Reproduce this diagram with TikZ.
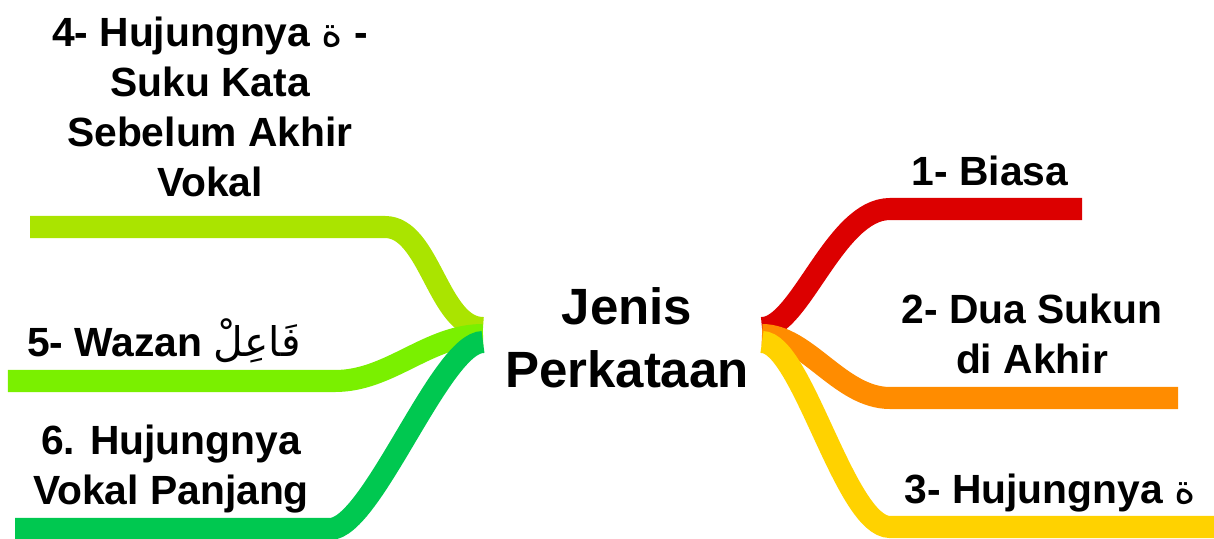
\documentclass[tikz,border=0pt]{standalone}
\usepackage{fontspec}
\setmainfont{Liberation Sans}
\newfontfamily\arabicfont[Script=Arabic]{DejaVu Sans}
\TeXXeTstate=1
\definecolor{brred}{RGB}{220,0,0}
\definecolor{brorange}{RGB}{255,140,0}
\definecolor{bryellow}{RGB}{255,210,0}
\definecolor{brlime}{RGB}{170,228,0}
\definecolor{brlight}{RGB}{122,240,0}
\definecolor{brgreen}{RGB}{0,200,80}
\newcommand{\tehm}{{\arabicfont\mdseries\beginR ة\endR}}
\begin{document}
\begin{tikzpicture}[x=0.01cm,y=-0.01cm,
  branch/.style={line width=2.2mm},
  lbl/.style={font=\fontsize{11.6}{14.2}\selectfont\bfseries, align=center, inner sep=0pt},
  topic/.style={font=\fontsize{14.5}{17.9}\selectfont\bfseries, align=center, inner sep=0pt}]
\useasboundingbox (0,0) rectangle (1214,539);

\node[topic] (jenis) at (627,338) {Jenis\\Perkataan};

\coordinate (rootR1) at (762,328);
\coordinate (rootR2) at (762,335);
\coordinate (rootR3) at (762,342);
\coordinate (rootL1) at (483,328);
\coordinate (rootL2) at (483,335);
\coordinate (rootL3) at (483,342);

\coordinate (turnBiasa) at (890,209);
\coordinate (endBiasa) at (1082,209);
\coordinate (turnSukun) at (890,398);
\coordinate (endSukun) at (1178,398);
\coordinate (turnHujung) at (890,527);
\coordinate (endHujung) at (1214,527);
\coordinate (turnSuku) at (385,227);
\coordinate (endSuku) at (30,227);
\coordinate (turnWazan) at (335,381);
\coordinate (endWazan) at (8,381);
\coordinate (turnVokal) at (330,529);
\coordinate (endVokal) at (15,529);

% right side
\draw[branch, brred] (rootR1) .. controls +(38,0) and +(-55,0) .. (turnBiasa) -- (endBiasa);
\draw[branch, brorange] (rootR2) .. controls +(45,0) and +(-50,0) .. (turnSukun) -- (endSukun);
\draw[branch, bryellow] (rootR3) .. controls +(40,0) and +(-45,0) .. (turnHujung) -- (endHujung);

% left side
\draw[branch, brlime] (rootL1) .. controls +(-45,0) and +(45,0) .. (turnSuku) -- (endSuku);
\draw[branch, brlight] (rootL2) .. controls +(-55,0) and +(55,0) .. (turnWazan) -- (endWazan);
\draw[branch, brgreen] (rootL3) .. controls +(-42,0) and +(42,0) .. (turnVokal) -- (endVokal);

\node[lbl, anchor=base] (biasa) at (990,185) {1- Biasa};
\node[lbl] (sukun) at (1032,334) {2- Dua Sukun\\di Akhir};
\node[lbl, anchor=base] (hujung) at (1050,503) {3- Hujungnya \tehm};
\node[lbl] (sukukata) at (210,107) {4- Hujungnya \tehm{} -\\Suku Kata\\Sebelum Akhir\\Vokal};
\node[lbl, anchor=base] (wazan) at (164,356) {5- Wazan {\arabicfont\mdseries\beginR فَاعِلْ\endR}};
\node[lbl] (vokal) at (171,469) {6. Hujungnya\\Vokal Panjang};
\end{tikzpicture}
\end{document}
